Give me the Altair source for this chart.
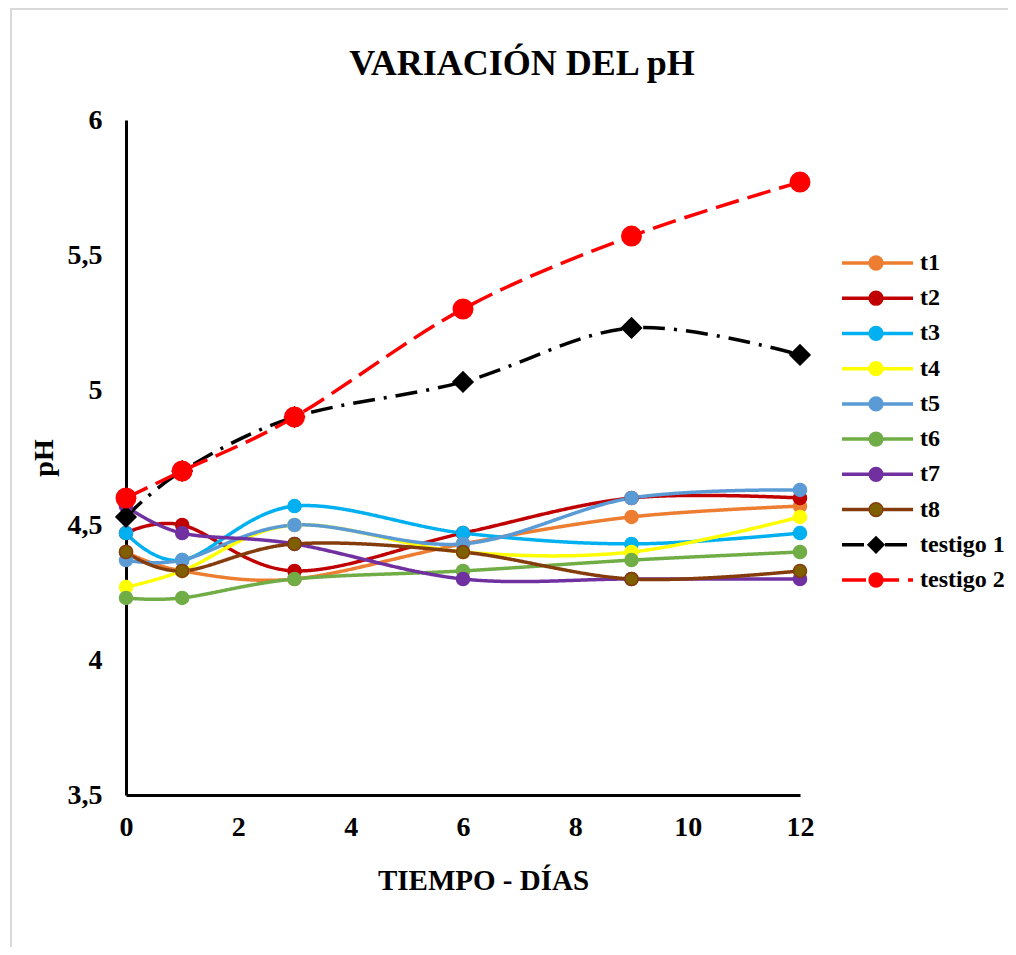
import altair as alt
import pandas as pd

# ---- data ----
dias = [0, 1, 3, 6, 9, 12]
t1 = [4.40, 4.33, 4.30, 4.43, 4.53, 4.57]
t2 = [4.47, 4.50, 4.33, 4.47, 4.60, 4.60]
t3 = [4.47, 4.37, 4.57, 4.47, 4.43, 4.47]
t4 = [4.27, 4.33, 4.50, 4.40, 4.40, 4.53]
t5 = [4.37, 4.37, 4.50, 4.43, 4.60, 4.63]
t6 = [4.23, 4.23, 4.30, 4.33, 4.37, 4.40]
t7 = [4.57, 4.47, 4.43, 4.30, 4.30, 4.30]
t8 = [4.40, 4.33, 4.43, 4.40, 4.30, 4.33]
testigo1 = [4.53, 4.70, 4.90, 5.03, 5.23, 5.13]
testigo2 = [4.60, 4.70, 4.90, 5.30, 5.57, 5.77]

series = ["t1", "t2", "t3", "t4", "t5", "t6", "t7", "t8", "testigo 1", "testigo 2"]
values = [t1, t2, t3, t4, t5, t6, t7, t8, testigo1, testigo2]

line_colors = ["#ED7D31", "#C00000", "#00B0F0", "#FFFF00", "#5B9BD5",
               "#70AD47", "#7030A0", "#843C0C", "#000000", "#FF0000"]
marker_fills = ["#ED7D31", "#C00000", "#00B0F0", "#FFFF00", "#5B9BD5",
                "#70AD47", "#7030A0", "#7F6000", "#000000", "#FF0000"]
dashes = [[1, 0]] * 8 + [[22, 9, 3, 9], [24, 9]]
shapes = ["circle"] * 8 + ["diamond", "circle"]
sizes = [170] * 8 + [400, 380]
legend_sizes = [190] * 8 + [260, 190]

y_ticks = [3.5, 4, 4.5, 5, 5.5, 6]
x_ticks = [0, 2, 4, 6, 8, 10, 12]

rows = []
for name, vals in zip(series, values):
    for d, v in zip(dias, vals):
        rows.append({"dia": d, "pH": v, "serie": name})
df = pd.DataFrame(rows)
legend_df = pd.DataFrame({"serie": series})

FONT = "Liberation Serif"

color_scale = alt.Scale(domain=series, range=line_colors)
fill_scale = alt.Scale(domain=series, range=marker_fills)
dash_scale = alt.Scale(domain=series, range=dashes)
shape_scale = alt.Scale(domain=series, range=shapes)
size_scale = alt.Scale(type="ordinal", domain=series, range=sizes)
legend_size_scale = alt.Scale(type="ordinal", domain=series, range=legend_sizes)

x_enc = alt.X(
    "dia:Q",
    scale=alt.Scale(domain=[0, 12], nice=False, zero=False),
    axis=alt.Axis(
        values=x_ticks, format="d", title="TIEMPO - DÍAS", grid=False, ticks=False, tickSize=0,
        domainColor="black", domainWidth=3, labelPadding=18,
        labelFont=FONT, labelFontSize=28, labelFontWeight="bold", labelColor="black",
        titleFont=FONT, titleFontSize=29, titleFontWeight="bold", titleColor="black",
        titlePadding=25, titleX=357, labelFlush=False,
    ),
)
y_enc = alt.Y(
    "pH:Q",
    scale=alt.Scale(domain=[3.5, 6], nice=False, zero=False),
    axis=alt.Axis(
        values=y_ticks, title="pH", grid=False, ticks=False, tickSize=0,
        domainColor="black", domainWidth=3, labelPadding=24,
        labelExpr="replace(toString(datum.value), '.', ',')",
        labelFont=FONT, labelFontSize=28, labelFontWeight="bold", labelColor="black",
        titleFont=FONT, titleFontSize=28, titleFontWeight="bold", titleColor="black",
        titlePadding=9, labelFlush=False,
    ),
)

lines = alt.Chart(df).mark_line(interpolate="cardinal", strokeWidth=3.5).encode(
    x=x_enc,
    y=y_enc,
    color=alt.Color("serie:N", scale=color_scale, legend=None),
    strokeDash=alt.StrokeDash("serie:N", scale=dash_scale, legend=None),
)

points = alt.Chart(df).mark_point(filled=True, opacity=1, strokeWidth=1.5).encode(
    x=x_enc,
    y=y_enc,
    fill=alt.Fill("serie:N", scale=fill_scale, legend=None),
    stroke=alt.Stroke("serie:N", scale=color_scale, legend=None),
    shape=alt.Shape("serie:N", scale=shape_scale, legend=None),
    size=alt.Size("serie:N", scale=size_scale, legend=None),
)

main = alt.layer(lines, points)

leg_y = alt.Y("serie:N", scale=alt.Scale(type="point", domain=series, range=[143, 460], padding=0), axis=None)

leg_lines = alt.Chart(legend_df).mark_rule(strokeWidth=3.5).encode(
    x=alt.value(716), x2=alt.value(787), y=leg_y,
    color=alt.Color("serie:N", scale=color_scale, legend=None),
    strokeDash=alt.StrokeDash("serie:N", scale=dash_scale, legend=None),
)
leg_pts = alt.Chart(legend_df).mark_point(filled=True, opacity=1, strokeWidth=1.5).encode(
    x=alt.value(750), y=leg_y,
    fill=alt.Fill("serie:N", scale=fill_scale, legend=None),
    stroke=alt.Stroke("serie:N", scale=color_scale, legend=None),
    shape=alt.Shape("serie:N", scale=shape_scale, legend=None),
    size=alt.Size("serie:N", scale=legend_size_scale, legend=None),
)
leg_text = alt.Chart(legend_df).mark_text(
    align="left", baseline="middle", font=FONT, fontSize=24, fontWeight="bold", color="black"
).encode(x=alt.value(794), y=leg_y, text="serie:N")

frame = alt.Chart(pd.DataFrame({"k": [0]})).mark_rect(
    fillOpacity=0, stroke="#D9D9D9", strokeWidth=2
).encode(x=alt.value(-115), x2=alt.value(900), y=alt.value(-111), y2=alt.value(860))

chart = alt.layer(frame, main, leg_lines, leg_pts, leg_text).resolve_scale(
    y="independent", size="independent"
).properties(
    width=674,
    height=675,
    padding={"left": 118, "top": 112, "right": 208, "bottom": 152},
    autosize=alt.AutoSizeParams(type="none"),
    title=alt.TitleParams(
        "VARIACIÓN DEL pH", font=FONT, fontSize=36, fontWeight="bold", color="black",
        anchor="middle", dx=59, offset=-75,
    ),
).configure_view(stroke=None)

chart.save("out.html", embed_options={"renderer": "svg", "actions": False})
